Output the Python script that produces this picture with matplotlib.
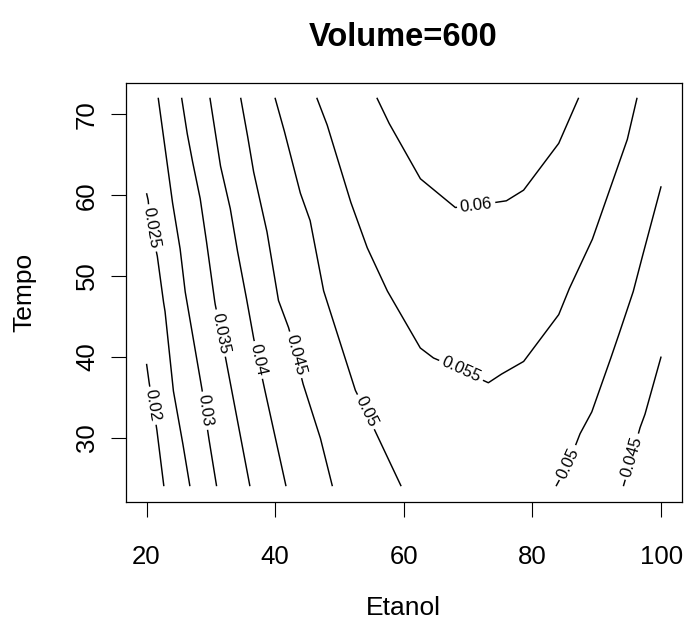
import numpy as np
import matplotlib
matplotlib.use('Agg')
import matplotlib.pyplot as plt

plt.rcParams['font.family'] = ['Liberation Sans', 'DejaVu Sans']

# contour levels and their lines (Etanol, Tempo)
levels = ['0.02', '0.025', '0.03', '0.035', '0.04', '0.045', '0.05',
          '0.055', '0.06', '0.05', '0.045']

line_x = [
    [20.0, 20.40, 20.98, 21.56, 22.69],
    [20.0, 20.25, 20.67, 21.65, 22.58, 22.85, 24.14, 25.45, 26.74],
    [21.81, 22.85, 23.89, 25.18, 25.96, 28.56, 29.07, 29.59, 30.89],
    [25.45, 26.23, 27.0, 28.30, 29.07, 30.37, 30.63, 31.56, 32.34, 36.07],
    [29.85, 30.63, 31.41, 32.97, 34.01, 35.30, 36.59, 37.40, 38.15, 41.68],
    [34.63, 35.56, 36.59, 38.68, 40.48, 42.04, 43.24, 44.28, 46.97, 48.89],
    [39.97, 41.26, 43.86, 45.42, 47.49, 50.60, 52.42, 54.13, 55.80, 59.58],
    [46.46, 48.02, 51.64, 54.24, 57.35, 62.54, 64.56, 68.92, 73.12, 74.99,
     78.61, 84.06, 85.62, 89.26, 94.71, 96.26],
    [55.80, 57.60, 62.54, 67.98, 71.25, 75.92, 78.61, 84.06, 87.18],
    [100.0, 97.6, 95.74, 94.71, 92.62, 89.26, 87.44, 85.62, 83.66],
    [100.0, 98.85, 97.56, 96.78, 95.46, 94.13],
]
line_y = [
    [39.14, 36.83, 33.95, 31.23, 24.0],
    [60.25, 59.38, 55.93, 52.59, 47.04, 45.8, 35.93, 30.16, 24.0],
    [72.06, 65.96, 59.79, 53.62, 48.27, 36.33, 33.33, 30.37, 24.0],
    [72.06, 68.02, 64.73, 59.79, 55.68, 48.27, 46.67, 42.96, 39.63, 24.0],
    [72.06, 68.02, 63.91, 58.56, 53.62, 48.27, 42.51, 39.63, 36.75, 24.0],
    [72.06, 68.02, 63.09, 55.68, 47.04, 43.74, 40.25, 36.79, 30.12, 24.0],
    [72.06, 68.43, 60.37, 56.91, 48.27, 40.49, 35.93, 33.21, 30.37, 24.0],
    [72.06, 68.85, 59.38, 53.62, 48.27, 41.11, 39.88, 38.40, 36.79, 37.78,
     39.42, 45.19, 48.27, 54.44, 66.79, 72.06],
    [72.06, 69.05, 62.06, 58.48, 58.77, 59.30, 60.62, 66.38, 72.06],
    [61.11, 54.0, 48.27, 45.8, 40.86, 33.25, 30.58, 26.87, 24.0],
    [40.04, 36.75, 33.05, 31.40, 27.65, 24.0],
]
# where each label sits on its line
label_x = [20.98, 20.67, 29.07, 31.56, 37.40, 43.24, 54.13, 68.92, 71.25, 85.62, 95.46]
label_y = [33.95, 55.93, 33.33, 42.96, 39.63, 40.25, 33.21, 38.40, 58.77, 26.87, 27.65]

label_size = 12

fig = plt.figure(figsize=(6.85, 6.21), dpi=100)
ax = fig.add_axes([0.1839, 0.1921, 0.8113, 0.6747])
ax.set_xlim(16.8, 103.2)
ax.set_ylim(22.08, 73.92)

trans = ax.transData
inv = trans.inverted()
px_per_pt = fig.dpi / 72.0

for lev, xs, ys, lx, ly in zip(levels, line_x, line_y, label_x, label_y):
    disp = trans.transform(np.column_stack([xs, ys]))
    # densify in display space
    seg = np.sqrt((np.diff(disp, axis=0) ** 2).sum(axis=1))
    s = np.concatenate([[0], np.cumsum(seg)])
    ss = np.linspace(0, s[-1], int(s[-1]) * 4 + 2)
    dense = np.column_stack([np.interp(ss, s, disp[:, 0]), np.interp(ss, s, disp[:, 1])])

    lp = trans.transform([[lx, ly]])[0]
    k = np.argmin(((dense - lp) ** 2).sum(axis=1))
    s0 = ss[k]

    # text width in pixels (Arial-ish metrics)
    n_dig = sum(c.isdigit() for c in lev)
    width = (n_dig * 0.556 + 0.278) * label_size * px_per_pt
    half = width / 2 + 3

    before = ss <= s0 - half
    after = ss >= s0 + half
    for mask in (before, after):
        if mask.sum() > 1:
            pts = inv.transform(dense[mask])
            ax.plot(pts[:, 0], pts[:, 1], color='black', lw=1.05, solid_capstyle='butt')

    # tangent direction for the label
    i0 = max(k - 8, 0)
    i1 = min(k + 8, len(dense) - 1)
    d = dense[i1] - dense[i0]
    ang = np.degrees(np.arctan2(d[1], d[0]))
    if ang > 90:
        ang -= 180
    elif ang <= -90:
        ang += 180
    cx, cy = inv.transform([dense[k]])[0]
    ax.text(cx, cy, lev, fontsize=label_size, rotation=ang, rotation_mode='anchor',
            ha='center', va='center')

ax.set_xticks([20, 40, 60, 80, 100])
ax.set_yticks([30, 40, 50, 60, 70])
ax.tick_params(axis='both', direction='out', length=10.5, width=0.8, labelsize=18.5)
ax.tick_params(axis='x', pad=21)
ax.tick_params(axis='y', pad=9)
for lab in ax.get_yticklabels():
    lab.set_rotation(90)
    lab.set_va('center')
for sp in ax.spines.values():
    sp.set_linewidth(0.9)

ax.set_xlabel('Etanol', fontsize=19, labelpad=19)
ax.set_ylabel('Tempo', fontsize=19, labelpad=28)
fig.text(0.589, 0.939, 'Volume=600', fontsize=23.5, fontweight='bold', ha='center', va='center')

fig.savefig('out.png', dpi=100)
